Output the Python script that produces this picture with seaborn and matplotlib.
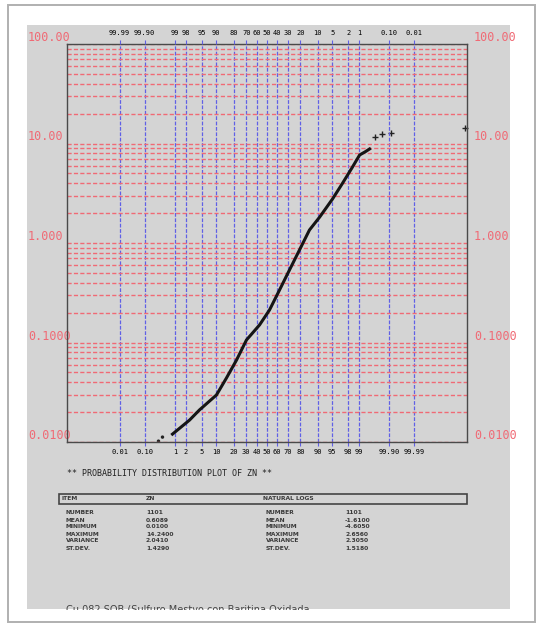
import numpy as np
import pandas as pd
import seaborn as sns
import matplotlib
matplotlib.use("Agg")
import matplotlib.pyplot as plt
from matplotlib.patches import Rectangle
from matplotlib.ticker import LogLocator, NullFormatter
from statistics import NormalDist

# cumulative probability (%) and Zn value
curve_prob = [0.85, 2.52, 4.41, 10.1, 15.3, 22.1, 30.2, 42.5, 52.5, 62.4,
              71.5, 79.4, 85.8, 90.8, 95.1, 97.2, 98.46, 99.03, 99.36, 99.52]
curve_zn = [0.0120, 0.0166, 0.0210, 0.0297, 0.0440, 0.0667, 0.106, 0.150, 0.212, 0.337,
            0.536, 0.851, 1.35, 1.82, 2.77, 4.01, 5.81, 7.66, 8.3, 8.81]
low_prob = [0.307, 0.416]
low_zn = [0.0102, 0.0112]
high_prob = [99.67, 99.82, 99.91, 99.99997]
high_zn = [11.6, 12.4, 12.8, 14.24]

prob_ticks = [0.01, 0.1, 1, 2, 5, 10, 20, 30, 40, 50, 60, 70, 80, 90, 95, 98, 99, 99.9, 99.99]
bottom_labels = ["0.01", "0.10", "1", "2", "5", "10", "20", "30", "40", "50", "60",
                 "70", "80", "90", "95", "98", "99", "99.90", "99.99"]
top_labels = bottom_labels[::-1]
y_ticks = [0.01, 0.1, 1, 10, 100]
y_labels = ["0.0100", "0.1000", "1.000", "10.00", "100.00"]

stat_names = ["NUMBER", "MEAN", "MINIMUM", "MAXIMUM", "VARIANCE", "ST.DEV."]
zn_stats = ["1101", "0.6089", "0.0100", "14.2400", "2.0410", "1.4290"]
log_stats = ["1101", "-1.6100", "-4.6050", "2.6560", "2.3050", "1.5180"]

W, H = 542, 626
GREY = "#d4d4d4"
RED = "#f06a75"
BLUE = "#6060e6"
MONO = "DejaVu Sans Mono"

nd = NormalDist()


def p2z(p):
    q = np.clip(np.asarray(p, dtype=float) / 100.0, 1e-12, 1 - 1e-12)
    return np.vectorize(nd.inv_cdf, otypes=[float])(q)


def z2p(z):
    return np.vectorize(nd.cdf, otypes=[float])(np.asarray(z, dtype=float)) * 100.0


def fx(px):
    return px / W


def fy(py):
    return 1 - py / H


fig = plt.figure(figsize=(W / 100, H / 100), dpi=100)
fig.patches.append(Rectangle((fx(27), fy(609)), fx(510) - fx(27), fy(25) - fy(609),
                             transform=fig.transFigure, facecolor=GREY,
                             edgecolor="none", zorder=-5))

ax = fig.add_axes([fx(67), fy(442), fx(467) - fx(67), fy(44) - fy(442)])
ax.set_facecolor(GREY)

sns.lineplot(x=curve_prob, y=curve_zn, ax=ax, color="#151515", lw=2.2, sort=False)
sns.scatterplot(x=low_prob, y=low_zn, ax=ax, color="#222222", s=6, marker="o",
                edgecolor="none")
sns.scatterplot(x=high_prob, y=high_zn, ax=ax, color="#222222", s=18, marker="+",
                linewidth=1.0, clip_on=False)

xmin, xmax = z2p(-5.05), z2p(5.05)
ax.set_xscale("function", functions=(p2z, z2p))
ax.set_xlim(float(xmin), float(xmax))
ax.set_xticks(prob_ticks)
ax.set_xticklabels(bottom_labels)
ax.set_yscale("log")
ax.set_ylim(0.01, 100)
ax.set_yticks(y_ticks)
ax.set_yticklabels(y_labels)
ax.yaxis.set_minor_locator(LogLocator(base=10, subs=range(2, 10)))
ax.yaxis.set_minor_formatter(NullFormatter())

ax.grid(axis="y", which="major", color=RED, ls=(0, (3, 1.6)), lw=1.0)
ax.grid(axis="y", which="minor", color=RED, ls=(0, (3, 1.6)), lw=1.0)
ax.grid(axis="x", which="major", color=BLUE, ls=(0, (3, 1.3)), lw=0.9)
ax.tick_params(axis="y", which="both", length=0, labelcolor=RED, labelsize=8.5, pad=28)
ax.tick_params(axis="x", length=3, color=BLUE, width=0.8, labelsize=5, pad=2)
for t in ax.get_xticklabels():
    t.set_family(MONO)
for t in ax.get_yticklabels():
    t.set_family(MONO)
    t.set_ha("left")
    t.set_va("bottom")
for s in ax.spines.values():
    s.set_color("#4a4a4a")
    s.set_linewidth(1.0)

# right labels
ax2 = ax.twinx()
ax2.set_yscale("log")
ax2.set_ylim(0.01, 100)
ax2.set_yticks(y_ticks)
ax2.set_yticklabels(y_labels)
ax2.yaxis.set_minor_formatter(NullFormatter())
ax2.tick_params(axis="y", which="both", length=0, labelcolor=RED, labelsize=8.5, pad=5)
for t in ax2.get_yticklabels():
    t.set_family(MONO)
    t.set_va("bottom")
for s in ax2.spines.values():
    s.set_visible(False)

# top labels (exceedance probability)
ax3 = ax.twiny()
ax3.set_xscale("function", functions=(p2z, z2p))
ax3.set_xlim(float(xmin), float(xmax))
ax3.set_xticks(prob_ticks)
ax3.set_xticklabels(top_labels)
ax3.tick_params(axis="x", length=3, color=BLUE, width=0.8, labelsize=5, pad=3)
for t in ax3.get_xticklabels():
    t.set_family(MONO)
for s in ax3.spines.values():
    s.set_visible(False)

fig.text(fx(67), fy(474), "** PROBABILITY DISTRIBUTION PLOT OF ZN **", family=MONO,
         size=6, va="center", color="#222222")

# stats table
fig.patches.append(Rectangle((fx(59), fy(504)), fx(467) - fx(59), fy(494) - fy(504),
                             transform=fig.transFigure, fill=False,
                             edgecolor="#444444", lw=1.2))
hdr = dict(size=4.3, weight="bold", va="center", color="#3a3a3a")
fig.text(fx(62), fy(499), "ITEM", **hdr)
fig.text(fx(146), fy(499), "ZN", **hdr)
fig.text(fx(263), fy(499), "NATURAL LOGS", **hdr)
for i, name in enumerate(stat_names):
    yy = fy(513 + i * 7.0)
    fig.text(fx(66), yy, name, **hdr)
    fig.text(fx(146), yy, zn_stats[i], **hdr)
    fig.text(fx(266), yy, name, **hdr)
    fig.text(fx(345), yy, log_stats[i], **hdr)

fig.text(fx(66), fy(610), "Cu 082 SOB (Sulfuro Mestyo con Baritina Oxidada",
         size=7, va="center", color="#444444")
fig.patches.append(Rectangle((0, 0), 1, fy(610), transform=fig.transFigure,
                             facecolor="white", edgecolor="none", zorder=10))
fig.patches.append(Rectangle((fx(8), fy(622)), fx(535) - fx(8), fy(5) - fy(622),
                             transform=fig.transFigure, fill=False,
                             edgecolor="#b0b0b0", lw=1.4, zorder=11))

fig.savefig("out.png", dpi=100)
